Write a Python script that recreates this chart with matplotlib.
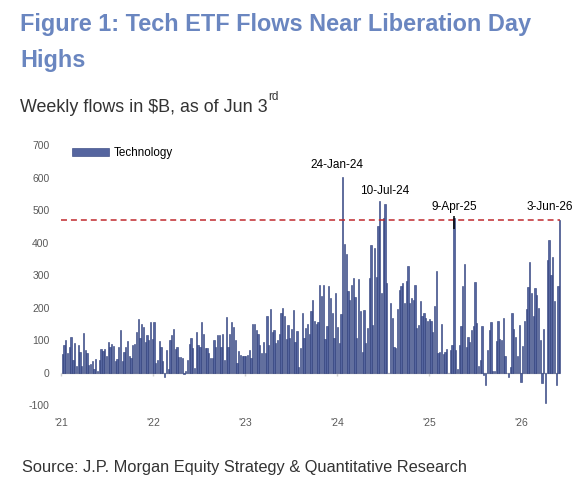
## TECH ETF WEEKLY FLOWS: BAR CHART ##
import matplotlib
matplotlib.use('Agg')
import matplotlib.pyplot as plt
import pandas as pd

plt.rcParams['font.family'] = ['Liberation Sans', 'DejaVu Sans']
plt.rcParams['axes.unicode_minus'] = False  # plain hyphen on -100

## DATA (weekly flows, $B) ##
flows_2021 = [58, 85, 100, 60, 80, 108, 40, 90, 20, 85,
              62, 20, 122, 70, 60, 22, 25, 35, 10, 42,
              5, 40, 72, 65, 72, 50, 95, 78, 88, 82,
              35, 42, 80, 130, 35, 62, 80, 98, 50, 45,
              85, 88, 125, 165, 105, 150, 140, 95, 115, 100,
              155, 102]
flows_2022 = [155, 30, 38, 98, 80, 35, -15, 70, 10, 100,
              115, 135, 72, 78, 48, 48, 45, -5, 5, 38,
              87, 105, 75, 15, 125, 85, 80, 155, 120, 75,
              75, 60, 45, 45, 100, 80, 115, 115, 80, 120,
              40, 170, 80, 118, 155, 140, 100, 28, 65, 55,
              50, 50]
flows_2023 = [50, 55, 70, 45, 150, 150, 130, 120, 85, 60,
              95, 60, 175, 85, 195, 125, 130, 90, 100, 120,
              182, 198, 174, 102, 146, 105, 133, 193, 95, 129,
              18, 74, 182, 107, 136, 150, 118, 190, 224, 158,
              150, 154, 270, 234, 268, 102, 143, 265, 229, 182,
              105, 244]
flows_2024 = [140, 90, 181, 603, 396, 364, 250, 224, 270, 290,
              232, 107, 289, 190, 62, 193, 90, 136, 290, 392,
              146, 384, 294, 450, 528, 246, 476, 518, 275, 0,
              214, 168, 80, 75, 194, 255, 265, 276, 214, 281,
              328, 214, 230, 224, 268, 137, 147, 220, 173, 183,
              168, 158]
flows_2025 = [165, 157, 126, 205, 311, 59, 64, 148, 57, 64,
              71, -3, 69, 85, 476, 69, 12, 85, 143, 267,
              334, 79, 110, 95, 131, 144, 277, 152, 20, 38,
              144, -8, -39, 69, 131, 155, 4, 4, 97, 157,
              102, 100, 167, 50, 0, -13, 18, 182, 133, 110,
              50, 146, -29]
flows_2026 = [82, 158, 194, 264, 340, 245, 173, 260, 240, 200,
              100, -32, 134, -95, 346, 407, 300, 354, 219, -39,
              265, 468]

flows = flows_2021 + flows_2022 + flows_2023 + flows_2024 + flows_2025 + flows_2026
weeks = pd.date_range('2021-01-06', periods=len(flows), freq='7D')

year_ticks = [pd.Timestamp(f'{y}-01-01') for y in range(2021, 2027)]
year_labels = ["'21", "'22", "'23", "'24", "'25", "'26"]

high_level = 468  # Liberation Day high (dashed line)

label_texts = ['24-Jan-24', '10-Jul-24', '9-Apr-25', '3-Jun-26']
label_dates = ['2024-01-24', '2024-07-10', '2025-04-09', '2026-06-03']
label_shift_days = [-24, 0, 0, -39]
label_y = [640, 560, 509, 510]

## STYLE ##
title_blue = '#6a86c0'
bar_face = '#55659f'
bar_edge = '#2b3b78'
gray_txt = '#595959'
W, H = 586, 490

fig = plt.figure(figsize=(W / 100, H / 100), dpi=100)
ax = fig.add_axes([55 / W, 1 - 405 / H, 511 / W, 260 / H])

ax.bar(weeks, flows, width=5, color=bar_face, edgecolor=bar_edge,
       linewidth=0.4, label='Technology', zorder=2)

# zero line with small year ticks
ax.hlines(0, year_ticks[0], weeks[-1] + pd.Timedelta(days=3), color='#d0d0d0', lw=1, zorder=1)
ax.vlines(year_ticks, -12, 0, color='#d0d0d0', lw=1, zorder=1)

# dashed high line
ax.hlines(high_level, year_ticks[0], weeks[-1], colors='#c0282d',
          linestyles=(0, (3.9, 2.6)), lw=1.1, zorder=3)

# peak labels
for txt, d, sh, y in zip(label_texts, label_dates, label_shift_days, label_y):
    ax.text(pd.Timestamp(d) + pd.Timedelta(days=sh), y, txt, ha='center', va='center',
            fontsize=8.5, color='black', clip_on=False)
# short leader on the Apr-25 spike
ax.vlines(pd.Timestamp('2025-04-09'), 441, 480, color='black', lw=1.1, zorder=4)

ax.set_ylim(-100, 700)
ax.set_yticks(range(-100, 701, 100))
ax.set_xlim(pd.Timestamp('2020-12-08'), pd.Timestamp('2026-06-28'))
ax.set_xticks(year_ticks)
ax.set_xticklabels(year_labels)
ax.tick_params(axis='both', length=0, labelsize=7.5, colors=gray_txt)
ax.tick_params(axis='x', pad=9)
ax.tick_params(axis='y', pad=4)
for s in ax.spines.values():
    s.set_visible(False)

ax.legend(loc='upper left', bbox_to_anchor=(72 / W, 1 - 147 / H),
          bbox_transform=fig.transFigure, frameon=False, borderpad=0,
          borderaxespad=0, handlelength=3.2, handleheight=0.7,
          handletextpad=0.4, fontsize=8.4)

# titles and source
fig.text(20 / W, 1 - 31 / H, 'Figure 1: Tech ETF Flows Near Liberation Day',
         fontsize=16.9, fontweight='bold', color=title_blue, va='baseline')
fig.text(20 / W, 1 - 67 / H, 'Highs', fontsize=16.9, fontweight='bold',
         color=title_blue, va='baseline')
sub = fig.text(20 / W, 1 - 112.5 / H, 'Weekly flows in $B, as of Jun 3',
               fontsize=12.9, color='#333333', va='baseline')
fig.text(22 / W, 1 - 472 / H, 'Source: J.P. Morgan Equity Strategy & Quantitative Research',
         fontsize=11.8, color='#333333', va='baseline')

fig.canvas.draw()
bb = sub.get_window_extent()
fig.text((bb.x1 + 1) / W, 1 - 100 / H, 'rd', fontsize=8.5, color='#333333', va='baseline')

fig.savefig('out.png', dpi=100)
